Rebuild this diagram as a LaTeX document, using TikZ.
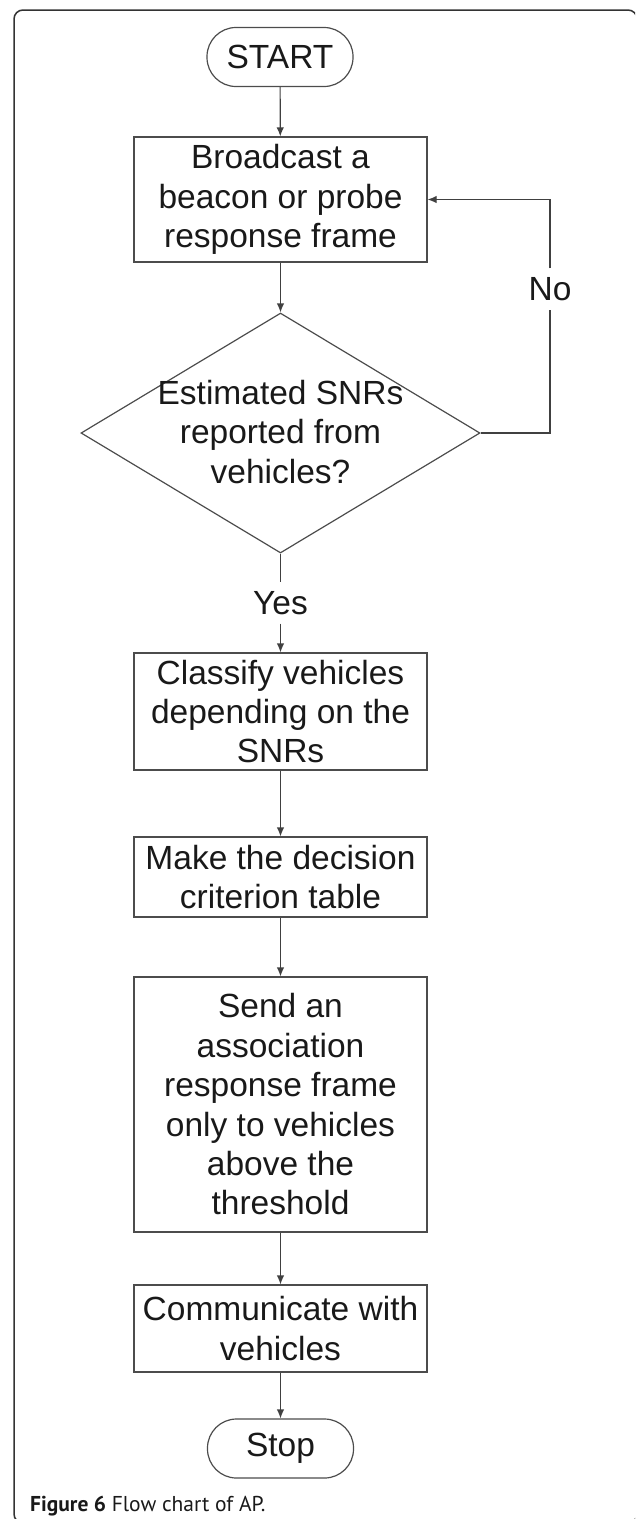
\documentclass[tikz,border=0pt]{standalone}
\usepackage{fontspec}
\setmainfont{Liberation Sans}
\newfontfamily\capfont{PT Sans}
\usetikzlibrary{shapes.geometric,arrows.meta}
\begin{document}
\begin{tikzpicture}[x=1pt,y=-1pt,
  every node/.style={font=\fontsize{33.5}{39.4}\selectfont, text=black!90},
  proc/.style={draw=black!70, line width=1.2pt, minimum width=293pt, inner sep=0pt, align=center},
  term/.style={draw=black!70, line width=1.2pt, rounded corners=29pt, minimum width=146pt, minimum height=59pt, inner sep=0pt},
  decision/.style={draw=black!70, line width=1.2pt, diamond, minimum width=399pt, minimum height=240pt, inner sep=0pt},
  lbl/.style={fill=white, inner sep=0pt, minimum height=41pt},
  flow/.style={draw=black!75, line width=1.2pt},
  arr/.style={flow, -{Latex[length=9pt,width=7.5pt]}}]
\useasboundingbox (0,0) rectangle (635,1519);
\begin{scope}
\clip (0,0) rectangle (635,1519);
\draw[line width=1.5pt, draw=black!80, rounded corners=9pt] (14,10) rectangle (637,1523);
\end{scope}

\node[term] (start) at (280,57) {START};
\node[proc, minimum height=125pt] (bcast) at (280.5,199.5) {Broadcast a\\beacon or probe\\response frame};
\node[decision] (dec) at (280.5,433) {};
\node[align=center, inner sep=0pt] (dectxt) at (280.5,432) {Estimated SNRs\\reported from\\vehicles?};
\node[lbl] (yes) at (280.5,603) {Yes};
\node[lbl] (no) at (550,289) {No};
\node[proc, minimum height=117pt] (classify) at (280.5,711.5) {Classify vehicles\\depending on the\\SNRs};
\node[proc, minimum height=80pt] (make) at (280.5,877) {Make the decision\\criterion table};
\node[proc, minimum height=255pt] (send) at (280.5,1104.5) {Send an\\association\\response frame\\only to vehicles\\above the\\threshold};
\node[proc, minimum height=87pt] (comm) at (280.5,1328.5) {Communicate with\\vehicles};
\node[term] (stop) at (280.5,1448.5) {Stop};

\draw[arr] (start) -- (bcast);
\draw[arr] (bcast) -- (dec);
\draw[flow] (dec.south) -- (yes.north);
\draw[arr] (yes.south) -- (classify.north);
\draw[flow] (dec.east) -| (no.south);
\draw[arr] (no.north) |- (bcast.east);
\draw[arr] (classify) -- (make);
\draw[arr] (make) -- (send);
\draw[arr] (send) -- (comm);
\draw[arr] (comm) -- (stop);

\node[anchor=base west, inner sep=0pt, font=\capfont\fontsize{21.5}{24}\selectfont, text=black!90] (cap) at (30,1511) {\textbf{Figure 6} Flow chart of AP.};
\end{tikzpicture}
\end{document}
